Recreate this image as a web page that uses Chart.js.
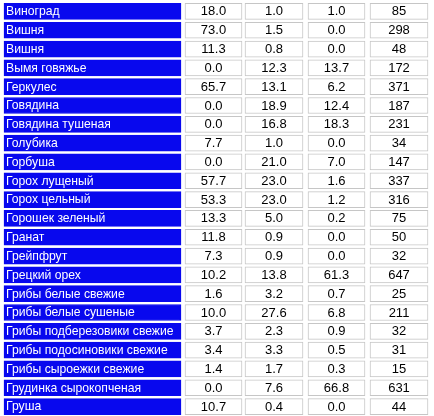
<!DOCTYPE html>
<html><head><meta charset="utf-8">
<script src="https://cdn.jsdelivr.net/npm/chart.js@4"></script>
<style>html,body{margin:0;padding:0;background:#fff}#w{width:434px;height:416px}</style>
</head><body><div id="w"><canvas id="c"></canvas></div>
<script>
const categories = ["Виноград","Вишня","Вишня","Вымя говяжье","Геркулес","Говядина","Говядина тушеная","Голубика","Горбуша","Горох лущеный","Горох цельный","Горошек зеленый","Гранат","Грейпфрут","Грецкий орех","Грибы белые свежие","Грибы белые сушеные","Грибы подберезовики свежие","Грибы подосиновики свежие","Грибы сыроежки свежие","Грудинка сырокопченая","Груша"];
const carbs =   [18.0,73.0,11.3,0.0,65.7,0.0,0.0,7.7,0.0,57.7,53.3,13.3,11.8,7.3,10.2,1.6,10.0,3.7,3.4,1.4,0.0,10.7];
const protein = [1.0,1.5,0.8,12.3,13.1,18.9,16.8,1.0,21.0,23.0,23.0,5.0,0.9,0.9,13.8,3.2,27.6,2.3,3.3,1.7,7.6,0.4];
const fat =     [1.0,0.0,0.0,13.7,6.2,12.4,18.3,0.0,7.0,1.6,1.2,0.2,0.0,0.0,61.3,0.7,6.8,0.9,0.5,0.3,66.8,0.0];
const kcal =    [85,298,48,172,371,187,231,34,147,337,316,75,50,32,647,25,211,32,31,15,631,44];

const cols = [[4,181],[185,242],[245,303],[308,365],[370,428]];
const series = [null, carbs.map(v=>v.toFixed(1)), protein.map(v=>v.toFixed(1)), fat.map(v=>v.toFixed(1)), kcal.map(String)];
const datasets = cols.map((c,i)=>({
  data: categories.map(()=>[c[0],c[1]]),
  backgroundColor: i===0 ? '#0808ee' : '#ffffff',
  borderColor: i===0 ? '#0808ee' : '#c6c6c6',
  borderWidth: 1, borderSkipped: false, barThickness: 16, grouped:false
}));
const textPlugin = {id:'txt', afterDatasetsDraw(ch){
  const ctx=ch.ctx, ys=ch.scales.y, xs=ch.scales.x;
  ctx.save(); ctx.textBaseline='middle';
  categories.forEach((n,r)=>{
    const y=ys.getPixelForValue(r)+0.5;
    ctx.font='12.2px "Liberation Sans", Arial, sans-serif';
    ctx.fillStyle='#ffffff'; ctx.textAlign='left'; ctx.fillText(n, xs.getPixelForValue(cols[0][0])+2, y);
    ctx.font='13px "Liberation Sans", Arial, sans-serif';
    ctx.fillStyle='#000000'; ctx.textAlign='center';
    for(let i=1;i<5;i++) ctx.fillText(series[i][r], xs.getPixelForValue((cols[i][0]+cols[i][1])/2), y);
  });
  ctx.restore();
}};
new Chart(document.getElementById('c'), {
  type:'bar',
  data:{labels:categories, datasets},
  options:{indexAxis:'y', responsive:true, maintainAspectRatio:false, animation:false,
    layout:{padding:{top:2,bottom:0,left:0,right:0}},
    plugins:{legend:{display:false},tooltip:{enabled:false}},
    scales:{x:{type:'linear',min:0,max:434,display:false},y:{display:false}}},
  plugins:[textPlugin]
});
</script></body></html>
